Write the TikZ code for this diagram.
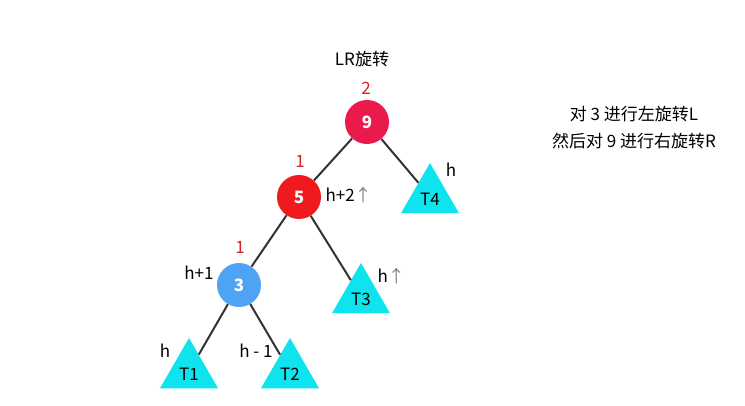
\documentclass[tikz,border=0pt]{standalone}
\usepackage{fontspec}
\setmainfont{Noto Sans CJK SC}
\usetikzlibrary{shapes.geometric}
\definecolor{nine}{HTML}{EA1A4C}
\definecolor{five}{HTML}{F01A1E}
\definecolor{three}{HTML}{4FA3F5}
\definecolor{tri}{HTML}{0FE3EE}
\definecolor{edgec}{HTML}{333333}
\definecolor{lab}{HTML}{E02020}
\tikzset{
  circ/.style={circle, minimum size=44pt, inner sep=0pt, text=white, font=\fontsize{17}{20}\selectfont\bfseries},
  tree/.style={regular polygon, regular polygon sides=3, minimum size=67pt, inner sep=0pt, fill=tri},
  link/.style={draw=edgec, line width=2pt},
  txt/.style={font=\fontsize{17}{20}\selectfont, text=black},
  red/.style={font=\fontsize{17}{20}\selectfont, text=lab},
}
\begin{document}
\begin{tikzpicture}[x=1pt,y=-1pt]
\useasboundingbox[fill=white] (0,0) rectangle (745,406);
\node[circ, fill=nine] (n9) at (367,122) {9};
\node[circ, fill=five] (n5) at (299,197) {5};
\node[circ, fill=three] (n3) at (239,285) {3};
\node[tree] (t4) at (430,196.5) {};
\node[tree] (t3) at (361,296.5) {};
\node[tree] (t1) at (189,371.5) {};
\node[tree] (t2) at (290,371.5) {};
\node[txt] (l4) at (430,199) {T4};
\node[txt] (l3) at (361,299) {T3};
\node[txt] (l1) at (189,374) {T1};
\node[txt] (l2) at (290,374) {T2};
\draw[link] (n9) -- (n5);
\draw[link] (n9) -- (t4);
\draw[link] (n5) -- (n3);
\draw[link] (n5) -- (t3);
\draw[link] (n3) -- (t1);
\draw[link] (n3) -- (t2);
\node[txt] (title) at (362,59) {LR旋转};
\node[red] (b9) at (366,88) {2};
\node[red] (b5) at (300,161) {1};
\node[red] (b3) at (240,247) {1};
\node[txt, anchor=west] (h5) at (322,195) {h+2\textcolor{gray}{↑}};
\node[txt] (h4) at (451,170) {h};
\node[txt] (h3a) at (199,273) {h+1};
\node[txt, anchor=west] (h3) at (374,276) {h\textcolor{gray}{↑}};
\node[txt] (h1) at (165,351) {h};
\node[txt] (h2) at (256,351) {h - 1};
\node[txt] (r1) at (634,114) {对 3 进行左旋转L};
\node[txt] (r2) at (634,141) {然后对 9 进行右旋转R};
\end{tikzpicture}
\end{document}
